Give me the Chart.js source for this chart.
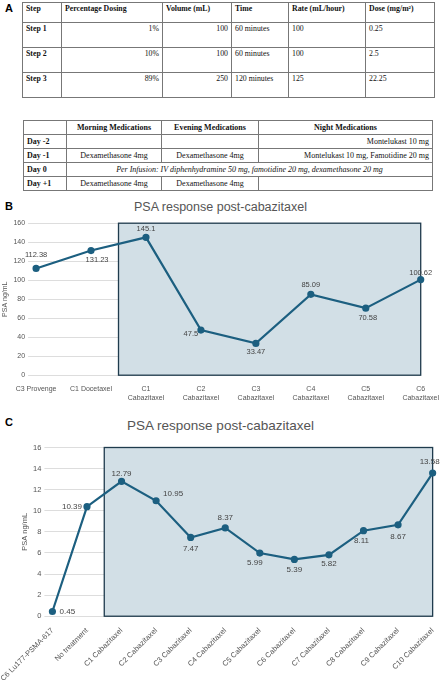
<!DOCTYPE html>
<html><head><meta charset="utf-8">
<script src="https://cdn.jsdelivr.net/npm/chart.js@4"></script>
<style>
body{margin:0;width:441px;height:685px;background:#fff;position:relative;overflow:hidden;font-family:"Liberation Serif",serif}
.lab{position:absolute;left:5px;font:bold 11px "Liberation Sans",Arial,sans-serif}
table{position:absolute;border-collapse:collapse;font-size:7.8px;color:#111}
td{border:1px solid #777;padding:1px 3px;vertical-align:top}
#ta{left:22px;top:2px;width:413px}
#ta td{height:22px}
#ta tr:first-child td{height:17px}
#tb{left:23px;top:120px;width:410px;font-size:8px}
#tb td{height:11px;vertical-align:middle}
.r{text-align:right}.c{text-align:center}.b{font-weight:bold}
.tt{position:absolute;width:441px;text-align:center;font-family:"Liberation Sans",Arial,sans-serif;color:#555}
</style></head><body>
<div class="lab" style="top:2px">A</div>
<table id="ta">
<tr class="b"><td style="width:32px">Step</td><td style="width:94px">Percentage Dosing</td><td style="width:62px">Volume (mL)</td><td style="width:50px">Time</td><td style="width:70px">Rate (mL/hour)</td><td>Dose (mg/m²)</td></tr>
<tr><td class="b">Step 1</td><td class="r">1%</td><td class="r">100</td><td>60 minutes</td><td>100</td><td>0.25</td></tr>
<tr><td class="b">Step 2</td><td class="r">10%</td><td class="r">100</td><td>60 minutes</td><td>100</td><td>2.5</td></tr>
<tr><td class="b">Step 3</td><td class="r">89%</td><td class="r">250</td><td>120 minutes</td><td>125</td><td>22.25</td></tr>
</table>
<table id="tb">
<tr class="b"><td style="width:36px"></td><td class="c" style="width:88px">Morning Medications</td><td class="c" style="width:90px">Evening Medications</td><td class="c">Night Medications</td></tr>
<tr><td class="b">Day -2</td><td></td><td></td><td class="r">Montelukast 10 mg</td></tr>
<tr><td class="b">Day -1</td><td class="c">Dexamethasone 4mg</td><td class="c">Dexamethasone 4mg</td><td class="r">Montelukast 10 mg, Famotidine 20 mg</td></tr>
<tr><td class="b">Day 0</td><td colspan="3" class="c"><i>Per Infusion: IV diphenhydramine 50 mg, famotidine 20 mg, dexamethasone 20 mg</i></td></tr>
<tr><td class="b">Day +1</td><td class="c">Dexamethasone 4mg</td><td class="c">Dexamethasone 4mg</td><td></td></tr>
</table>
<div class="lab" style="top:200px">B</div>
<div class="tt" style="top:200px;font-size:12.5px">PSA response post-cabazitaxel</div>
<div style="position:absolute;left:0;top:216px;width:441px;height:188px"><canvas id="cb"></canvas></div>
<div class="lab" style="top:416px">C</div>
<div class="tt" style="top:418px;font-size:13.5px">PSA response post-cabazitaxel</div>
<div style="position:absolute;left:0;top:440px;width:441px;height:245px"><canvas id="cc"></canvas></div>
<script>
const catsB = [["C3 Provenge"], ["C1 Docetaxel"], ["C1", "Cabazitaxel"], ["C2", "Cabazitaxel"], ["C3", "Cabazitaxel"], ["C4", "Cabazitaxel"], ["C5", "Cabazitaxel"], ["C6", "Cabazitaxel"]];
const valsB = [112.38, 131.23, 145.1, 47.5, 33.47, 85.09, 70.58, 100.62];
const catsC = ["C6 Lu177-PSMA-617", "No treatment", "C1 Cabazitaxel", "C2 Cabazitaxel", "C3 Cabazitaxel", "C4 Cabazitaxel", "C5 Cabazitaxel", "C6 Cabazitaxel", "C7 Cabazitaxel", "C8 Cabazitaxel", "C9 Cabazitaxel", "C10 Cabazitaxel"];
const valsC = [0.45, 10.39, 12.79, 10.95, 7.47, 8.37, 5.99, 5.39, 5.82, 8.11, 8.67, 13.58];

const LINE = "#1c5f80";

// shaded box behind the cabazitaxel points
const boxPlugin = {
  id: "box",
  beforeDatasetsDraw(chart, args, o) {
    const {ctx, scales: {x, y}, chartArea} = chart;
    const left = (x.getPixelForValue(o.from - 1) + x.getPixelForValue(o.from)) / 2;
    const top = y.getPixelForValue(y.max), bot = y.getPixelForValue(0);
    ctx.save();
    ctx.fillStyle = "#d2dfe6";
    ctx.fillRect(left, top, chartArea.right - left, bot - top);
    ctx.strokeStyle = "#1f3b4d";
    ctx.lineWidth = 1.3;
    ctx.strokeRect(left, top, chartArea.right - left, bot - top);
    ctx.restore();
  }
};

// value labels, offsets [dx, dy] per point
const labelPlugin = {
  id: "vlabels",
  afterDatasetsDraw(chart, args, o) {
    const {ctx} = chart;
    const meta = chart.getDatasetMeta(0);
    ctx.save();
    ctx.font = o.size + "px 'Liberation Sans', Arial, sans-serif";
    ctx.fillStyle = "#444";
    ctx.textAlign = "center";
    ctx.textBaseline = "middle";
    meta.data.forEach((p, i) => {
      const off = o.offsets[i];
      ctx.fillText(chart.data.datasets[0].data[i], p.x + off[0], p.y + off[1]);
    });
    ctx.restore();
  }
};

function opts(max, step, title, rot, size, offsets, pad) {
  return {
    responsive: true, maintainAspectRatio: false, animation: false,
    layout: {padding: pad},
    scales: {
      y: {min: 0, max: max, ticks: {stepSize: step, color: "#555", font: {size: size}},
          grid: {color: "#ddd"}, border: {display: false},
          title: {display: true, text: title, color: "#555", font: {size: size}, padding: 1}},
      x: {grid: {display: false}, border: {display: false},
          ticks: {color: "#555", font: {size: size}, maxRotation: rot, minRotation: rot, autoSkip: false, padding: 2}}
    },
    plugins: {legend: {display: false}, tooltip: {enabled: false},
      box: {from: 2}, vlabels: {size: size + 0.5, offsets: offsets}}
  };
}

new Chart(document.getElementById("cb"), {
  type: "line",
  data: {labels: catsB, datasets: [{data: valsB, borderColor: LINE, backgroundColor: LINE, borderWidth: 2.2, pointRadius: 2.5}]},
  options: opts(160, 20, "PSA ng/mL", 0, 7, [[0,-14],[6,9],[0,-8],[-10,4],[0,9],[0,-9],[2,10],[0,-7]], {right: 4, top: 4}),
  plugins: [boxPlugin, labelPlugin]
});

new Chart(document.getElementById("cc"), {
  type: "line",
  data: {labels: catsC, datasets: [{data: valsC, borderColor: LINE, backgroundColor: LINE, borderWidth: 2.2, pointRadius: 2.5}]},
  options: opts(16, 2, "PSA ng/mL", 45, 7.5, [[15,0],[-15,0],[0,-8],[17,-7],[0,11],[0,-10],[-5,10],[0,10],[0,9],[-2,10],[0,12],[-3,-11]], {right: 4, top: 4}),
  plugins: [boxPlugin, labelPlugin]
});
</script>
</body></html>
